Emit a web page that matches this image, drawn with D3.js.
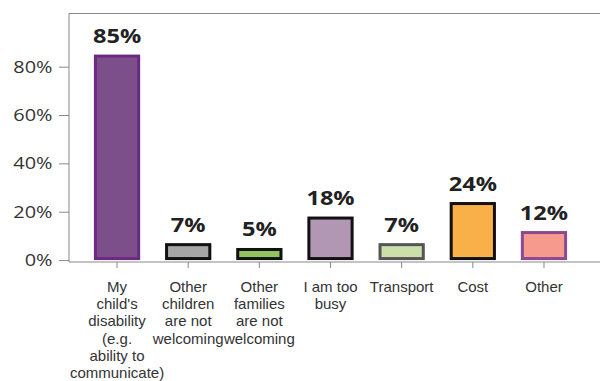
<!DOCTYPE html>
<html><head><meta charset="utf-8">
<script src="https://cdn.jsdelivr.net/npm/d3@7"></script>
<style>body{margin:0;background:#fff}svg{display:block}</style>
</head><body><svg id="c" width="600" height="381"></svg>
<script>
const categories = ["My child's disability (e.g. ability to communicate)","Other children are not welcoming","Other families are not welcoming","I am too busy","Transport","Cost","Other"];
const categoryLines = [["My","child's","disability","(e.g.","ability to","communicate)"],["Other","children","are not","welcoming"],["Other","families","are not","welcoming"],["I am too","busy"],["Transport"],["Cost"],["Other"]];
const values = [85, 7, 5, 18, 7, 24, 12];
const fills = ["#7c4f8a","#a6a6a6","#92c25c","#b297b5","#cadfa9","#f9b048","#f69a8d"];
const strokes = ["#6b2a80","#111111","#111111","#111111","#555555","#111111","#8a4a93"];
const yTicks = [0, 20, 40, 60, 80];

(function(){
const svg = d3.select("#c");
const mLeft = 69, mTop = 13, mBottom = 262;
const sxT = 1.17, sxV = 1.18;
const x = d3.scaleBand().domain(categories).range([mLeft, 592]).paddingInner(0.35).paddingOuter(0.35);
const y = d3.scaleLinear().domain([-0.8, 102.2]).range([mBottom, mTop]);

svg.append("line").attr("x1", mLeft).attr("x2", 600).attr("y1", mTop + 0.5).attr("y2", mTop + 0.5).attr("stroke", "#888").attr("stroke-width", 1.2);

const ya = svg.append("g").attr("transform", `translate(${mLeft},0)`)
  .call(d3.axisLeft(y).tickValues(yTicks).tickFormat(d => d + "%").tickSize(10).tickPadding(6));
ya.select(".domain").attr("stroke", "#888").attr("d", `M0,${mTop}V${mBottom}`);
ya.selectAll(".tick line").attr("stroke", "#888");
ya.selectAll(".tick text").attr("font-family", "Open Sans, Noto Sans, sans-serif").attr("font-size", 17).attr("fill", "#333")
  .attr("x", -16.5 / sxT).attr("transform", `scale(${sxT},1)`);

const xa = svg.append("g").attr("transform", `translate(0,${mBottom})`)
  .call(d3.axisBottom(x).tickSize(6).tickFormat(""));
xa.select(".domain").attr("stroke", "#888").attr("d", `M${mLeft},0H600`);
xa.selectAll(".tick line").attr("stroke", "#888");
xa.selectAll(".tick").each(function(d, i) {
  const t = d3.select(this).append("text").attr("text-anchor", "middle")
    .attr("font-family", "Liberation Sans, Arial, sans-serif").attr("font-size", 15).attr("fill", "#333");
  categoryLines[i].forEach((ln, j) => t.append("tspan").attr("x", 0).attr("y", 29.7 + j * 17.3).text(ln));
});

const bw = x.bandwidth();
svg.selectAll("rect.bar").data(values).join("rect").attr("class", "bar")
  .attr("x", (d, i) => x(categories[i]) + 1.5)
  .attr("width", bw - 3)
  .attr("y", d => y(d) + 1.5)
  .attr("height", d => y(0) - y(d) - 3)
  .attr("fill", (d, i) => fills[i])
  .attr("stroke", (d, i) => strokes[i])
  .attr("stroke-width", 3);

svg.selectAll("text.val").data(values).join("text").attr("class", "val")
  .attr("transform", (d, i) => `translate(${x(categories[i]) + bw / 2},${y(d) - 11.5}) scale(${sxV},1)`)
  .attr("text-anchor", "middle")
  .attr("font-family", "Open Sans, Noto Sans, sans-serif").attr("font-weight", "bold")
  .attr("font-size", 20).attr("fill", "#222")
  .text(d => d + "%");
})();
</script></body></html>
